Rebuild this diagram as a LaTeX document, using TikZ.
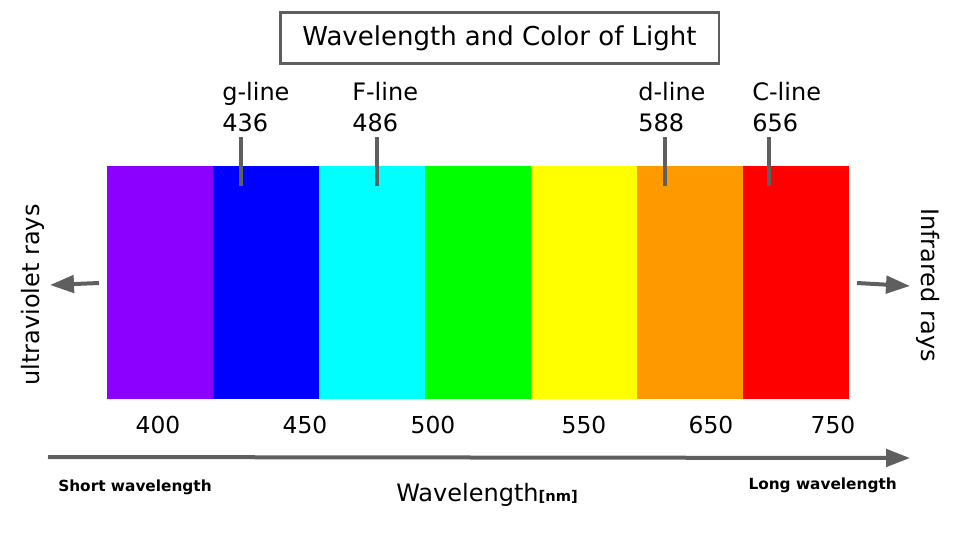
\documentclass[tikz,border=0pt]{standalone}
\usepackage{fontspec}
\setmainfont{DejaVu Sans}
\usetikzlibrary{positioning,arrows.meta}
\definecolor{bandviolet}{HTML}{8B00FF}
\definecolor{bandblue}{HTML}{0000FF}
\definecolor{bandcyan}{HTML}{00FFFF}
\definecolor{bandgreen}{HTML}{00FF00}
\definecolor{bandyellow}{HTML}{FFFF00}
\definecolor{bandorange}{HTML}{FF9900}
\definecolor{bandred}{HTML}{FF0000}
\definecolor{markgray}{HTML}{5F5F5F}

\begin{document}
\begin{tikzpicture}[
  x=0.75pt, y=-0.75pt,
  font=\fontsize{18}{22}\selectfont,
  >={Triangle[length=18pt,width=13pt]},
  band/.style={anchor=north west, minimum width=79.5pt, minimum height=174.75pt, inner sep=0pt, outer sep=0pt},
  markline/.style={draw=markgray, line width=3pt},
  raysarrow/.style={->, draw=markgray, fill=markgray, line width=3pt},
  linelab/.style={anchor=north west, align=left, inner sep=0pt, font=\fontsize{18}{23.5}\selectfont},
  nmlab/.style={inner sep=0pt, font=\fontsize{17.5}{21}\selectfont},
  endlab/.style={inner sep=0pt, font=\fontsize{11.5}{14}\selectfont\bfseries}
]
  \useasboundingbox (0,0) rectangle (960,540);
  % title
  \node[draw=markgray, line width=2pt, minimum width=329pt, minimum height=38pt, inner sep=0pt, font=\fontsize{19.5}{23}\selectfont] (title) at (499.5,38) {Wavelength and Color of Light};
  % colour bands
  \foreach \c [count=\i] in {bandviolet, bandblue, bandcyan, bandgreen, bandyellow, bandorange, bandred}
    \node[band, fill=\c] (b\i) at ({107+106*(\i-1)},166) {};
  % spectral lines
  \node[linelab] (glab) at (222,82) {g-line\\436};
  \node[linelab] (flab) at (352,82) {F-line\\486};
  \node[linelab] (dlab) at (638,82) {d-line\\588};
  \node[linelab] (clab) at (752,82) {C-line\\656};
  \coordinate (gtop) at (241,137); \coordinate (gbot) at (241,186);
  \coordinate (ftop) at (377,137); \coordinate (fbot) at (377,186);
  \coordinate (dtop) at (665,137); \coordinate (dbot) at (665,186);
  \coordinate (ctop) at (769,137); \coordinate (cbot) at (769,186);
  \draw[markline] (gtop) -- (gbot);
  \draw[markline] (ftop) -- (fbot);
  \draw[markline] (dtop) -- (dbot);
  \draw[markline] (ctop) -- (cbot);
  % rays
  \coordinate (uvstart) at (99,283); \coordinate (uvend) at (50,285);
  \coordinate (irstart) at (857,283); \coordinate (irend) at (910,286);
  \draw[raysarrow] (uvstart) -- (uvend);
  \draw[raysarrow] (irstart) -- (irend);
  \node[rotate=90, inner sep=0pt] (uvlab) at (33,295) {ultraviolet rays};
  \node[rotate=-90, inner sep=0pt] (irlab) at (928,285) {Infrared rays};
  % wavelength axis
  \foreach \v/\x in {400/158, 450/305, 500/433, 550/584, 650/711, 750/833}
    \node[nmlab] (n\v) at (\x,425) {\v};
  \coordinate (axstart) at (48,457); \coordinate (axend) at (910,458);
  \draw[raysarrow] (axstart) -- (axend);
  \node[endlab, anchor=west] (shortlab) at (58,487) {Short wavelength};
  \node[endlab, anchor=east] (longlab) at (897,485) {Long wavelength};
  \node[nmlab, font=\fontsize{18}{21}\selectfont] (axlab) at (487,495) {Wavelength{\fontsize{11}{12}\selectfont\bfseries[nm]}};
\end{tikzpicture}
\end{document}
